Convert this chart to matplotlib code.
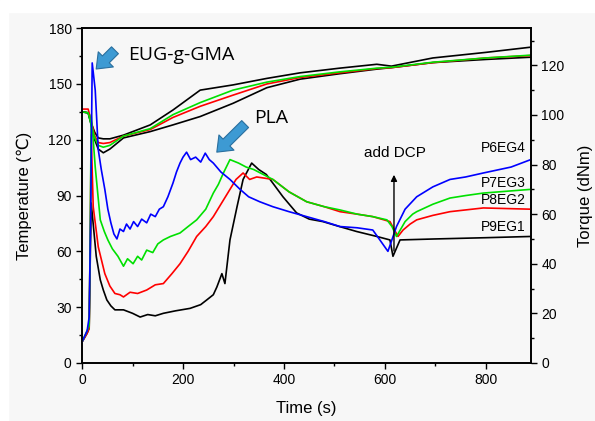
import matplotlib
matplotlib.use("Agg")
import matplotlib.pyplot as plt
from matplotlib.patches import Rectangle
from matplotlib.ticker import MultipleLocator

plt.rcParams["font.family"] = ["Liberation Sans", "DejaVu Sans"]

# ---- temperature curves (left axis, deg C)
t_temp = [0, 12, 18, 25, 32, 42, 55, 82, 135, 180, 234, 299, 366, 432, 510, 584, 613, 695, 800, 889]
temp_black1 = [135, 134.5, 129, 124, 121, 120.5, 120.5, 122.5, 128, 136, 146.7, 149.5, 153, 156, 158.5, 160.6, 159.6, 164, 167, 169.8]
temp_green = [135, 134.5, 128, 121, 117, 116, 117, 122, 126, 133.5, 140, 146.7, 151, 154, 156.5, 158.5, 159, 161.7, 164, 165.5]
temp_red = [136.5, 136.5, 130, 122, 118.5, 118, 118.5, 122, 125.5, 132, 138, 144, 150, 153.5, 156, 158.3, 158.8, 161.5, 164, 165.3]
temp_black2 = [135, 134.5, 128, 120, 115, 113, 115, 121, 124.4, 128, 132.5, 139.6, 148, 152.6, 155.5, 158, 158.8, 161.5, 163.2, 164.4]

# ---- torque curves (right axis, dNm)
t_p6 = [0, 10, 14, 17, 20, 26, 32, 38, 45, 51, 57, 63, 69, 75, 82, 88, 95, 102, 110, 118, 128, 136, 145, 153,
        161, 170, 180, 187, 194, 200, 207, 215, 225, 235, 244, 252, 260, 275, 293, 313, 330, 352, 378, 410,
        445, 480, 511, 545, 576, 590, 606, 623, 640, 663, 695, 729, 760, 795, 850, 889]
tq_p6 = [8.5, 13, 18.5, 60, 121, 110, 86, 78, 70, 62, 56.5, 52, 50, 54, 53, 56, 54, 57, 55, 58, 56.5, 60, 59, 62,
         63, 67, 72.5, 77, 80.6, 83, 85, 82, 83, 81, 84.6, 82, 80.6, 77, 74, 70, 67, 65, 63, 61,
         59, 57, 55, 54.5, 53.6, 49.6, 45, 55, 62, 67, 71, 74, 75, 76.6, 79, 82]

t_p7 = [0, 10, 14, 16, 18, 22, 26, 36, 44, 51, 60, 71, 82, 90, 101, 110, 118, 128, 140, 150, 161, 175, 194,
        210, 227, 245, 260, 270, 280, 293, 310, 325, 340, 378, 410, 445, 480, 511, 545, 576, 604, 614, 623,
        640, 655, 663, 695, 729, 760, 795, 889]
tq_p7 = [8.5, 13, 15, 50, 100, 90, 79, 57.7, 53, 49.6, 46, 43, 39, 42, 40, 43, 41.5, 45.5, 44.5, 48, 49.6, 51, 52.4,
         55, 57.7, 62, 68.5, 72, 76.6, 82, 80.6, 79, 78, 74, 69, 65, 63, 61.7, 60, 59, 57.7, 55, 51,
         57, 60, 61, 64, 66.5, 67.5, 68.5, 70]

t_p8 = [0, 10, 14, 16, 18, 22, 32, 45, 55, 65, 75, 82, 95, 110, 128, 145, 161, 178, 194, 210, 227, 245,
        260, 275, 293, 305, 319, 332, 346, 378, 410, 445, 480, 511, 545, 576, 610, 626, 636, 650, 663, 695,
        729, 795, 889]
tq_p8 = [8.5, 12, 14, 50, 92, 63, 46.8, 36, 31, 28, 27.5, 26.6, 28.5, 28, 29.4, 31.5, 32, 36, 40, 45, 51, 55,
         59, 64, 70, 74, 76.6, 74, 75, 74, 69, 65, 63, 61, 60, 59, 57, 51, 53.6, 56, 57.7, 59.5,
         61, 62.5, 62]

t_p9 = [0, 10, 14, 16, 18, 22, 28, 36, 42, 49, 57, 65, 82, 100, 115, 130, 145, 161, 185, 214, 235, 247, 260,
        267, 277, 283, 293, 307, 319, 336, 350, 365, 378, 398, 425, 450, 477, 510, 544, 584, 610, 616, 630,
        700, 800, 889]
tq_p9 = [8.5, 12, 14, 40, 64.5, 56, 43, 33.5, 29.4, 25.4, 23, 21.4, 21.4, 20, 18.5, 19.5, 19, 20, 21, 22, 23.5, 25.4, 27.5,
         30.6, 36, 32, 49.6, 63, 74, 80.6, 78, 76, 72.5, 67, 60.5, 58, 57, 55, 53, 51, 49.6, 43, 49.6,
         50, 50.5, 51]

labels = ["P6EG4", "P7EG3", "P8EG2", "P9EG1"]
label_y = [86.7, 72.6, 65.7, 54.8]

fig = plt.figure(figsize=(5.95, 4.21), dpi=100, facecolor="#f7f7f7")
fig.patches.append(Rectangle((0, 409 / 421), 1, 12 / 421, transform=fig.transFigure, color="white", zorder=0))
fig.patches.append(Rectangle((0, 0), 8 / 595, 1, transform=fig.transFigure, color="white", zorder=0))

ax = fig.add_axes([0.138, 0.138, 0.754, 0.795])
ax.set_facecolor("#f7f7f7")
ax2 = ax.twinx()

lw = 1.2
ax.plot(t_temp, temp_black1, color="black", lw=lw)
ax.plot(t_temp, temp_black2, color="black", lw=lw)
ax.plot(t_temp, temp_red, color="#ff0000", lw=lw)
ax.plot(t_temp, temp_green, color="#00e000", lw=lw)

ax2.plot(t_p9, tq_p9, color="black", lw=lw)
ax2.plot(t_p8, tq_p8, color="#ff0000", lw=lw)
ax2.plot(t_p7, tq_p7, color="#00e000", lw=lw)
ax2.plot(t_p6, tq_p6, color="#0000ff", lw=lw)

ax.set_xlim(0, 889)
ax.set_ylim(0, 180)
ax2.set_ylim(0, 135)

ax.xaxis.set_major_locator(MultipleLocator(200))
ax.xaxis.set_minor_locator(MultipleLocator(100))
ax.yaxis.set_major_locator(MultipleLocator(30))
ax.yaxis.set_minor_locator(MultipleLocator(15))
ax2.yaxis.set_major_locator(MultipleLocator(20))
ax2.yaxis.set_minor_locator(MultipleLocator(10))

for a in (ax, ax2):
    for s in a.spines.values():
        s.set_linewidth(1.2)
    a.tick_params(which="major", direction="out", length=4, width=1, labelsize=10)
    a.tick_params(which="minor", direction="out", length=2.5, width=1)

ax.set_xlabel("Time (s)", fontsize=12, labelpad=10)
ax.set_ylabel("Temperature (\u2103)", fontsize=12, labelpad=12)
ax2.set_ylabel("Torque (dNm)", fontsize=12, labelpad=10)

# annotations
arrow_kw = dict(arrowstyle="simple,head_length=0.7,head_width=1.1,tail_width=0.5",
                fc="#3d9ad3", ec="#2a6f9e", lw=0.8, mutation_scale=14)
ax.annotate("", xy=(24, 157), xytext=(69, 169.2), arrowprops=arrow_kw)
ax.annotate("", xy=(263, 112.3), xytext=(327, 129.5), arrowprops=arrow_kw)
ax.text(91, 165.5, "EUG-g-GMA", fontsize=14, family="Open Sans", va="center", ha="left")
ax.text(340, 131.6, "PLA", fontsize=14, family="Open Sans", va="center", ha="left")

ax2.annotate("", xy=(618, 77), xytext=(618, 44),
             arrowprops=dict(arrowstyle="-|>", color="black", lw=1, mutation_scale=9))
ax2.text(620, 84.7, "add DCP", fontsize=11, ha="center", va="center")

for lab, y in zip(labels, label_y):
    ax2.text(879, y, lab, fontsize=10, ha="right", va="center")

fig.savefig("out.png", dpi=100, facecolor=fig.get_facecolor())
